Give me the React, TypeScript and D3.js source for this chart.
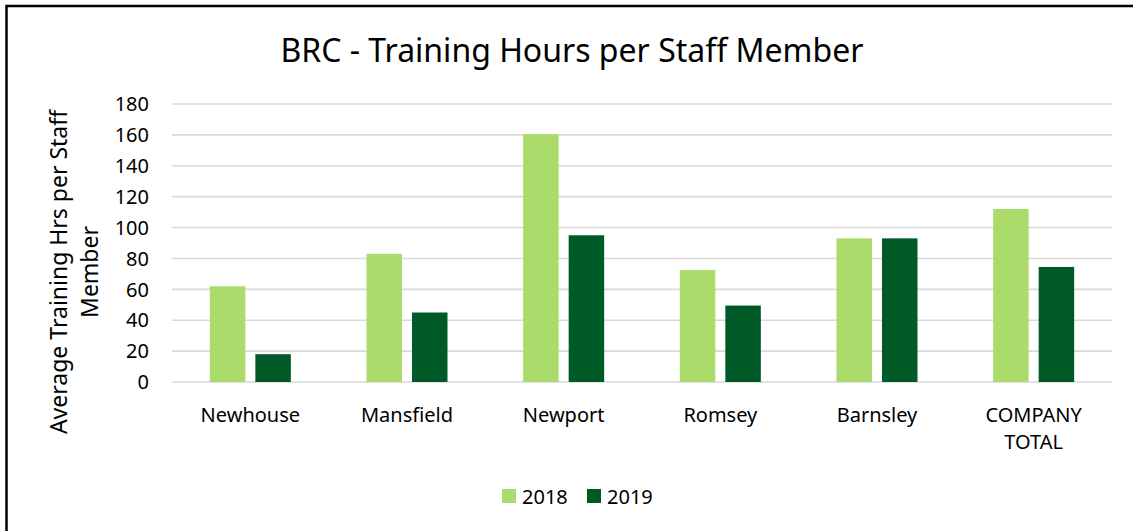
import React, { useEffect, useRef } from 'react';
import * as d3 from 'd3';

const categories = ['Newhouse', 'Mansfield', 'Newport', 'Romsey', 'Barnsley', 'COMPANY TOTAL'];
const seriesNames = ['2018', '2019'];
const values2018 = [62, 83, 160.5, 72.5, 93, 112];
const values2019 = [18, 45, 95, 49.5, 93, 74.5];
const yTicks = [0, 20, 40, 60, 80, 100, 120, 140, 160, 180];
const colors = ['#ABDB6B', '#005A28'];

const W = 1133;
const H = 531;
const FONT = '"Noto Sans", sans-serif';

const App: React.FC = () => {
  const svgRef = useRef<SVGSVGElement>(null);

  useEffect(() => {
    if (!svgRef.current) return;
    const svg = d3.select(svgRef.current);
    svg.selectAll('*').remove();

    const left = 172, right = 1112, top = 104, bottom = 382;

    svg.append('rect').attr('width', W).attr('height', H).attr('fill', '#fff');
    // outer chart border (only top/left visible in the crop)
    svg.append('rect')
      .attr('x', 6.5).attr('y', 6)
      .attr('width', 1300).attr('height', 700)
      .attr('fill', 'none').attr('stroke', '#000').attr('stroke-width', 2.5);

    const y = d3.scaleLinear().domain([0, 180]).range([bottom, top]);
    const x0 = d3.scaleBand<string>().domain(categories).range([left, right])
      .paddingInner(0.483).paddingOuter(0.2415);
    const x1 = d3.scaleBand<string>().domain(seriesNames).range([0, x0.bandwidth()])
      .paddingInner(0.22);

    // gridlines
    svg.append('g').selectAll('line').data(yTicks).join('line')
      .attr('x1', left).attr('x2', right)
      .attr('y1', d => y(d)).attr('y2', d => y(d))
      .attr('stroke', '#D9D9D9').attr('stroke-width', 1.6);

    // y tick labels
    svg.append('g').selectAll('text').data(yTicks).join('text')
      .attr('x', 149).attr('y', d => y(d)).attr('dy', '0.36em')
      .attr('text-anchor', 'end')
      .attr('font-family', FONT).attr('font-size', 20).attr('fill', '#000')
      .text(d => d);

    // bars
    const rows = categories.map((c, i) => ({ c, v: [values2018[i], values2019[i]] }));
    const groups = svg.append('g').selectAll('g').data(rows).join('g')
      .attr('transform', d => `translate(${x0(d.c)},0)`);
    groups.selectAll('rect').data(d => d.v.map((v, k) => ({ s: seriesNames[k], v, k }))).join('rect')
      .attr('x', d => x1(d.s)!)
      .attr('y', d => y(d.v))
      .attr('width', x1.bandwidth())
      .attr('height', d => y(0) - y(d.v))
      .attr('fill', d => colors[d.k]);

    // category labels
    const catG = svg.append('g').selectAll('text').data(categories).join('text')
      .attr('x', d => x0(d)! + x0.bandwidth() / 2)
      .attr('y', 422)
      .attr('text-anchor', 'middle')
      .attr('font-family', FONT).attr('font-size', 20).attr('fill', '#000');
    catG.each(function (d) {
      const words = d === 'COMPANY TOTAL' ? ['COMPANY', 'TOTAL'] : [d];
      const t = d3.select(this);
      words.forEach((w, i) => {
        t.append('tspan').attr('x', x0(d)! + x0.bandwidth() / 2).attr('dy', i === 0 ? 0 : 27).text(w);
      });
    });

    // title
    svg.append('text')
      .attr('x', 572).attr('y', 62)
      .attr('text-anchor', 'middle')
      .attr('font-family', FONT).attr('font-size', 32).attr('fill', '#000')
      .text('BRC - Training Hours per Staff Member');

    // y axis title
    const yt = svg.append('text')
      .attr('transform', 'translate(67,272) rotate(-90)')
      .attr('text-anchor', 'middle')
      .attr('font-family', FONT).attr('font-size', 23).attr('fill', '#000');
    yt.append('tspan').attr('x', 0).attr('dy', 0).text('Average Training Hrs per Staff');
    yt.append('tspan').attr('x', 0).attr('dy', 31).text('Member');

    // legend
    const legX = [502, 587];
    const leg = svg.append('g').selectAll('g').data(seriesNames).join('g')
      .attr('transform', (d, i) => `translate(${legX[i]},489)`);
    leg.append('rect').attr('width', 14).attr('height', 14).attr('fill', (d, i) => colors[i]);
    leg.append('text').attr('x', 20).attr('y', 14.5)
      .attr('font-family', FONT).attr('font-size', 20).attr('fill', '#000')
      .text(d => d);
  }, []);

  return (
    <div style={{ position: 'fixed', left: 0, top: 0, width: W, height: H }}>
      <svg ref={svgRef} width={W} height={H} style={{ display: 'block' }} />
    </div>
  );
};

export default App;
